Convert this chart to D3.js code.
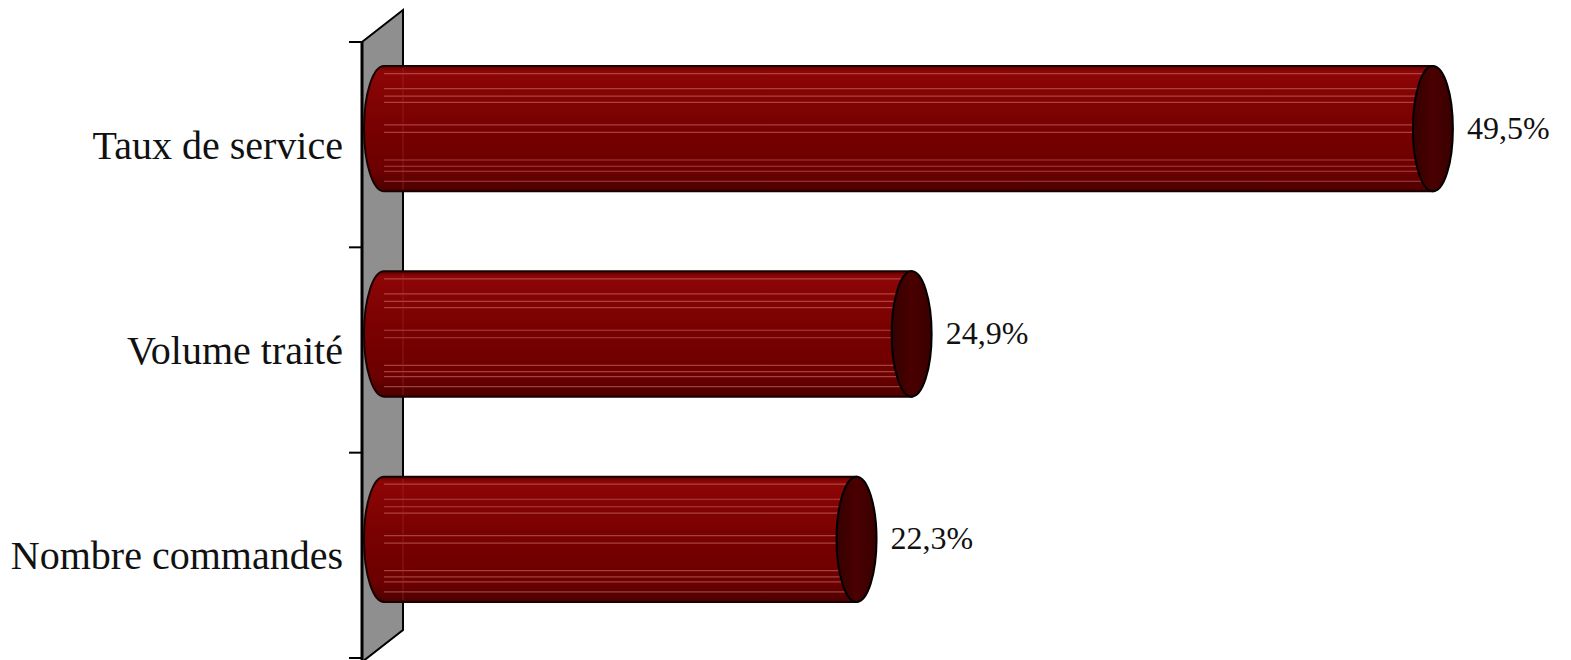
<!DOCTYPE html>
<html><head><meta charset="utf-8">
<script src="https://cdn.jsdelivr.net/npm/d3@7"></script>
<style>html,body{margin:0;padding:0;background:#fff;}svg{display:block;}</style>
</head><body>
<svg id="chart" width="1571" height="660"></svg>
<script>
const categories = ["Taux de service", "Volume traité", "Nombre commandes"];
const values = [49.5, 24.9, 22.3];
const valueLabels = ["49,5%", "24,9%", "22,3%"];

const svg = d3.select("#chart");
const W = 1571, H = 660;
const wallX = 362, depthX = 41, depthY = -32;
const y = d3.scaleBand().domain(categories).range([42, 658]).padding(0);
const x = d3.scaleLinear().domain([0, 50]).range([wallX, wallX + 50 * 21.19]);
const barFrac = 0.61;
const dx = depthX / 2 + 1.5, dy = depthY / 2;
const rx = 20;

const defs = svg.append("defs");
const g1 = defs.append("linearGradient").attr("id", "body").attr("x1", 0).attr("y1", 0).attr("x2", 0).attr("y2", 1);
[[0, "#5a0000"], [0.04, "#8e0606"], [0.25, "#820303"], [0.55, "#760000"], [0.85, "#6c0000"], [1, "#4a0000"]]
  .forEach(([o, c]) => g1.append("stop").attr("offset", o).attr("stop-color", c));
const g2 = defs.append("linearGradient").attr("id", "cap").attr("x1", 0).attr("y1", 0).attr("x2", 1).attr("y2", 0);
[[0, "#350000"], [0.5, "#4a0000"], [1, "#380000"]]
  .forEach(([o, c]) => g2.append("stop").attr("offset", o).attr("stop-color", c));

// wall
const wallTop = y.range()[0], wallBot = y.range()[1] + 4;
svg.append("path")
  .attr("d", `M${wallX},${wallTop} L${wallX + depthX},${wallTop + depthY} L${wallX + depthX},${wallBot + depthY} L${wallX},${wallBot} Z`)
  .attr("fill", "#8f8f8f").attr("stroke", "#000").attr("stroke-width", 2).attr("stroke-linejoin", "miter");
svg.append("line").attr("x1", wallX).attr("x2", wallX).attr("y1", wallTop).attr("y2", H)
  .attr("stroke", "#000").attr("stroke-width", 3);

// ticks
const tickYs = categories.map(c => y(c)).concat([y.range()[1]]);
svg.selectAll("line.tick").data(tickYs).join("line").attr("class", "tick")
  .attr("x1", wallX - 13).attr("x2", wallX).attr("y1", d => d).attr("y2", d => d)
  .attr("stroke", "#000").attr("stroke-width", 2);

// bars
const stripes = [0.06, 0.18, 0.24, 0.29, 0.47, 0.53, 0.75, 0.8, 0.84, 0.92];
categories.forEach((c, i) => {
  const h = y.bandwidth() * barFrac;
  const cy = y(c) + y.bandwidth() / 2 + dy;
  const top = cy - h / 2, bot = cy + h / 2, ry = h / 2;
  const x0 = x(0) + dx, x1 = x(values[i]) + dx;
  const g = svg.append("g");
  g.append("path")
    .attr("d", `M${x1},${top} L${x0},${top} A${rx},${ry} 0 0 0 ${x0},${bot} L${x1},${bot} Z`)
    .attr("fill", "url(#body)").attr("stroke", "#1a0000").attr("stroke-width", 2);
  g.selectAll("line.s").data(stripes).join("line").attr("class", "s")
    .attr("x1", x0).attr("x2", x1 - 5)
    .attr("y1", f => top + f * h).attr("y2", f => top + f * h)
    .attr("stroke", "#c86a6a").attr("stroke-opacity", 0.6).attr("stroke-width", 1.2);
  g.append("line").attr("x1", wallX + depthX).attr("x2", wallX + depthX)
    .attr("y1", top + 2).attr("y2", bot - 2)
    .attr("stroke", "#b03030").attr("stroke-opacity", 0.35).attr("stroke-width", 1.5);
  g.append("ellipse").attr("cx", x1).attr("cy", cy).attr("rx", rx).attr("ry", ry)
    .attr("fill", "url(#cap)").attr("stroke", "#000").attr("stroke-width", 2);
  svg.append("text").attr("x", x1 + rx + 14).attr("y", cy + 10)
    .attr("font-family", "'Liberation Serif','Times New Roman',serif").attr("font-size", 32)
    .attr("fill", "#111").text(valueLabels[i]);
});

// category labels
svg.selectAll("text.cat").data(categories).join("text").attr("class", "cat")
  .attr("x", 343).attr("y", d => y(d) + y.bandwidth() / 2 + 14)
  .attr("text-anchor", "end")
  .attr("font-family", "'Liberation Serif','Times New Roman',serif").attr("font-size", 40)
  .attr("fill", "#111").text(d => d);
</script>
</body></html>
